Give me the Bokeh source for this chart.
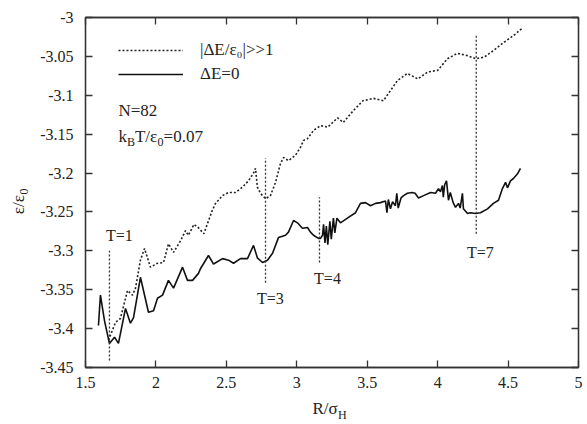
import math
from bokeh.plotting import figure
from bokeh.layouts import row, column
from bokeh.models import LinearAxis, FixedTicker, Label, Range1d, Legend, LegendItem
from bokeh.embed import file_html
from bokeh.resources import INLINE

# ---------------- data ----------------
solid_x = [1.592, 1.606, 1.635, 1.670, 1.706, 1.734, 1.784, 1.819, 1.841, 1.890,
           1.947, 1.983, 2.011, 2.047, 2.089, 2.125, 2.189, 2.224, 2.260, 2.302,
           2.316, 2.373, 2.409, 2.473, 2.515, 2.551, 2.600, 2.650, 2.693, 2.720,
           2.757, 2.792, 2.828, 2.870, 2.920, 2.941, 2.977, 3.005, 3.040, 3.076,
           3.097, 3.119, 3.154, 3.168, 3.183, 3.190, 3.200, 3.210, 3.220, 3.235,
           3.245, 3.260, 3.270, 3.285, 3.310, 3.367, 3.417, 3.452, 3.488, 3.523,
           3.559, 3.594, 3.630, 3.640, 3.650, 3.665, 3.680, 3.700, 3.710, 3.720,
           3.740, 3.758, 3.785, 3.820, 3.840, 3.864, 3.900, 3.950, 3.985, 4.006,
           4.020, 4.034, 4.040, 4.050, 4.063, 4.077, 4.090, 4.110, 4.127, 4.148,
           4.160, 4.176, 4.183, 4.212, 4.233, 4.269, 4.304, 4.354, 4.396, 4.432,
           4.460, 4.482, 4.496, 4.517, 4.538, 4.567, 4.588]
solid_y = [-3.396, -3.357, -3.390, -3.419, -3.411, -3.419, -3.374, -3.393, -3.386, -3.334,
           -3.379, -3.377, -3.361, -3.357, -3.338, -3.348, -3.321, -3.338, -3.338, -3.329,
           -3.323, -3.306, -3.317, -3.310, -3.312, -3.316, -3.310, -3.310, -3.293, -3.309,
           -3.315, -3.312, -3.303, -3.283, -3.280, -3.276, -3.261, -3.264, -3.271, -3.270,
           -3.276, -3.280, -3.284, -3.284, -3.280, -3.266, -3.290, -3.268, -3.292, -3.262,
           -3.285, -3.258, -3.277, -3.258, -3.264, -3.257, -3.251, -3.239, -3.238, -3.242,
           -3.239, -3.238, -3.236, -3.251, -3.234, -3.246, -3.237, -3.242, -3.226, -3.245,
           -3.232, -3.229, -3.226, -3.225, -3.226, -3.232, -3.229, -3.225, -3.226, -3.220,
           -3.224, -3.216, -3.231, -3.215, -3.210, -3.235, -3.225, -3.238, -3.244, -3.239,
           -3.245, -3.226, -3.246, -3.252, -3.251, -3.252, -3.251, -3.246, -3.239, -3.235,
           -3.220, -3.212, -3.219, -3.210, -3.207, -3.201, -3.194]

dotted_x = [1.663, 1.713, 1.748, 1.798, 1.834, 1.855, 1.890, 1.919, 1.961, 2.011,
            2.054, 2.089, 2.125, 2.175, 2.210, 2.230, 2.270, 2.300, 2.340, 2.366,
            2.400, 2.423, 2.473, 2.515, 2.565, 2.615, 2.657, 2.693, 2.707, 2.720,
            2.742, 2.778, 2.813, 2.849, 2.884, 2.906, 2.941, 2.991, 3.026, 3.048,
            3.075, 3.120, 3.170, 3.220, 3.290, 3.330, 3.400, 3.470, 3.545, 3.615,
            3.665, 3.715, 3.785, 3.860, 3.930, 4.000, 4.070, 4.140, 4.210, 4.270,
            4.330, 4.400, 4.470, 4.540, 4.600]
dotted_y = [-3.415, -3.392, -3.387, -3.351, -3.357, -3.348, -3.312, -3.297, -3.321, -3.316,
            -3.315, -3.291, -3.302, -3.287, -3.274, -3.280, -3.266, -3.270, -3.278, -3.265,
            -3.248, -3.239, -3.229, -3.225, -3.225, -3.218, -3.210, -3.200, -3.194, -3.218,
            -3.226, -3.233, -3.229, -3.212, -3.188, -3.180, -3.184, -3.177, -3.167, -3.158,
            -3.156, -3.145, -3.139, -3.141, -3.129, -3.135, -3.120, -3.107, -3.104, -3.107,
            -3.094, -3.081, -3.072, -3.079, -3.070, -3.068, -3.053, -3.046, -3.049, -3.053,
            -3.051, -3.042, -3.032, -3.023, -3.014]

# transition markers (vertical dotted lines)
t_names = ["T=1", "T=3", "T=4", "T=7"]
t_x = [1.670, 2.778, 3.161, 4.274]
t_top = [-3.300, -3.181, -3.231, -3.023]
t_bottom = [-3.441, -3.341, -3.315, -3.278]

x_ticks = [1.5, 2, 2.5, 3, 3.5, 4, 4.5, 5]
x_tick_labels = ["1.5", "2", "2.5", "3", "3.5", "4", "4.5", "5"]
y_ticks = [-3.45, -3.4, -3.35, -3.3, -3.25, -3.2, -3.15, -3.1, -3.05, -3.0]
y_tick_labels = ["-3.45", "-3.4", "-3.35", "-3.3", "-3.25", "-3.2", "-3.15", "-3.1", "-3.05", "-3"]

FONT = "Liberation Serif"
FS = 16
SUB = 11
INK = "#222222"

# ---------------- main figure ----------------
MAIN_H = 395
p = figure(frame_width=493, frame_height=350, output_backend="svg", toolbar_location=None,
           x_range=Range1d(1.5, 5), y_range=Range1d(-3.45, -3.0),
           min_border_left=51, min_border_top=17, min_border_right=5, min_border_bottom=28)
p.background_fill_color = "white"
p.border_fill_color = "white"
p.outline_line_color = "#333333"
p.outline_line_width = 1.3
p.xgrid.visible = False
p.ygrid.visible = False


def style_axis(ax, ticks, labels, show_labels, standoff):
    ax.ticker = FixedTicker(ticks=ticks)
    ax.major_tick_in = 7
    ax.major_tick_out = 0
    ax.minor_tick_line_color = None
    ax.axis_line_color = "#333333"
    ax.axis_line_width = 1.3
    ax.major_tick_line_color = "#333333"
    ax.major_tick_line_width = 1.3
    ax.major_label_text_font = FONT
    ax.major_label_text_color = INK
    ax.major_label_standoff = standoff
    if show_labels:
        ax.major_label_overrides = {t: l for t, l in zip(ticks, labels)}
        ax.major_label_text_font_size = f"{FS}px"
    else:
        ax.major_label_overrides = {t: "" for t in ticks}
        ax.major_label_text_font_size = "1px"
        ax.major_label_standoff = 0


style_axis(p.xaxis[0], x_ticks, x_tick_labels, True, 9)
style_axis(p.yaxis[0], y_ticks, y_tick_labels, True, 12)
top_ax = LinearAxis()
right_ax = LinearAxis()
style_axis(top_ax, x_ticks, x_tick_labels, False, 0)
style_axis(right_ax, y_ticks, y_tick_labels, False, 0)
p.add_layout(top_ax, "above")
p.add_layout(right_ax, "right")

# curves
r_dot = p.line(dotted_x, dotted_y, line_color=INK, line_width=1.6, line_dash="2 2")
r_sol = p.line(solid_x, solid_y, line_color="#111111", line_width=1.6)

# vertical markers
p.segment(x0=t_x, y0=t_bottom, x1=t_x, y1=t_top, line_color="#333333",
          line_width=1.3, line_dash="2 2")

# legend
legend = Legend(items=[LegendItem(label="|ΔE/ε₀|>>1", renderers=[r_dot]),
                       LegendItem(label="ΔE=0", renderers=[r_sol])],
                location=(33, 283), orientation="vertical",
                glyph_width=65, glyph_height=20, label_height=20,
                label_standoff=17, spacing=4, padding=0, margin=0,
                label_text_font=FONT, label_text_font_size=f"{FS + 1}px",
                label_text_color=INK,
                border_line_color=None, background_fill_alpha=0)
p.add_layout(legend, "center")

# ------------- text helper with subscripts -------------
W = {'|': .2, 'Δ': .612, 'E': .611, '/': .278, 'ε': .443, '0': .5, '>': .564, '1': .5,
     '=': .564, 'N': .722, '8': .5, '2': .5, 'k': .5, 'B': .667, 'T': .611, '.': .25,
     '7': .5, 'R': .667, 'σ': .55, 'H': .722}


def width(s, fs):
    return sum(W.get(c, .5) for c in s) * fs


def rich(fig, x, y, pieces, angle=0.0, color=INK):
    """pieces: list of (text, font_size, baseline_shift_px)"""
    adv = 0.0
    ca, sa = math.cos(angle), math.sin(angle)
    for text, fs, shift in pieces:
        dx = adv * ca + shift * sa
        dy = adv * sa - shift * ca
        fig.add_layout(Label(x=x, y=y, text=text, x_offset=dx, y_offset=dy, angle=angle,
                             text_font=FONT, text_font_size=f"{fs}px", text_color=color,
                             text_baseline="middle", text_align="left"))
        adv += width(text, fs)


# annotations N and kT
rich(p, 1.734, -3.1196, [("N=82", FS + 1, 0)])
rich(p, 1.734, -3.153, [("k", FS + 1, 0), ("B", SUB + 1, 5), ("T/ε", FS + 1, 0),
                         ("0", SUB + 1, 5), ("=0.07", FS + 1, 0)])

# T labels
t_lab_x = [1.741, 2.813, 3.218, 4.304]
t_lab_y = [-3.280, -3.361, -3.336, -3.302]
for name, lx, ly in zip(t_names, t_lab_x, t_lab_y):
    p.add_layout(Label(x=lx, y=ly, text=name, text_font=FONT, text_font_size=f"{FS}px",
                       text_color=INK, text_align="center", text_baseline="middle"))


# ---------------- axis title panels ----------------
def blank(w, h):
    f = figure(width=w, height=h, output_backend="svg", toolbar_location=None,
               x_range=Range1d(0, w), y_range=Range1d(0, h),
               x_axis_type=None, y_axis_type=None, min_border=0)
    f.outline_line_color = None
    f.background_fill_color = "white"
    f.border_fill_color = "white"
    f.xgrid.visible = False
    f.ygrid.visible = False
    return f


YL_W = 34
ylab = blank(YL_W, MAIN_H)
rich(ylab, 18, MAIN_H - 222, [("ε/ε", FS + 1, 0), ("0", SUB + 1, 5)], angle=math.pi / 2)

XL_H = 29
xlab = blank(583, XL_H)
rich(xlab, 312, XL_H - 13, [("R/σ", FS + 1, 0), ("H", SUB + 1, 6)])

layout = column(row(ylab, p, spacing=0), xlab, spacing=0)

open("out.html", "w").write(file_html(layout, INLINE))
